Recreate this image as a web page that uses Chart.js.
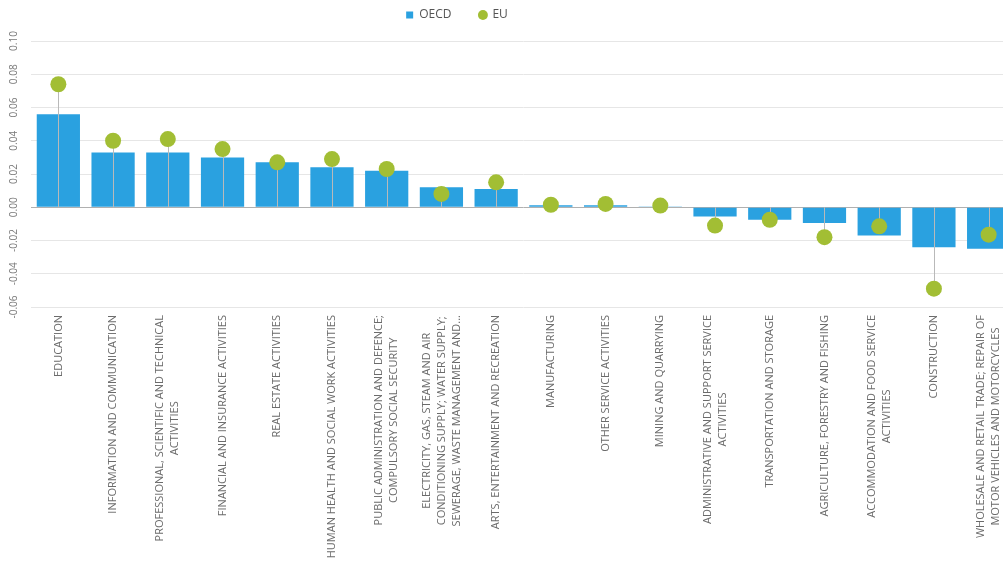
<!DOCTYPE html>
<html lang="en">
<head>
    <meta charset="UTF-8">
    <title>OECD vs EU by sector</title>
    <script src="https://cdn.jsdelivr.net/npm/chart.js"></script>
    <style>
        html, body {
            margin: 0;
            padding: 0;
            background: #ffffff;
            overflow: hidden;
        }
        #wrap {
            width: 1003px;
            height: 567px;
            overflow: hidden;
        }
    </style>
</head>
<body>
    <div id="wrap">
        <canvas id="sectorChart" width="1024" height="567"></canvas>
    </div>
    <script>
        // Sector names, one array entry per printed line
        const sectors = [
            ['EDUCATION'],
            ['INFORMATION AND COMMUNICATION'],
            ['PROFESSIONAL, SCIENTIFIC AND TECHNICAL', 'ACTIVITIES'],
            ['FINANCIAL AND INSURANCE ACTIVITIES'],
            ['REAL ESTATE ACTIVITIES'],
            ['HUMAN HEALTH AND SOCIAL WORK ACTIVITIES'],
            ['PUBLIC ADMINISTRATION AND DEFENCE;', 'COMPULSORY SOCIAL SECURITY'],
            ['ELECTRICITY, GAS, STEAM AND AIR', 'CONDITIONING SUPPLY; WATER SUPPLY;', 'SEWERAGE, WASTE MANAGEMENT AND...'],
            ['ARTS, ENTERTAINMENT AND RECREATION'],
            ['MANUFACTURING'],
            ['OTHER SERVICE ACTIVITIES'],
            ['MINING AND QUARRYING'],
            ['ADMINISTRATIVE AND SUPPORT SERVICE', 'ACTIVITIES'],
            ['TRANSPORTATION AND STORAGE'],
            ['AGRICULTURE, FORESTRY AND FISHING'],
            ['ACCOMMODATION AND FOOD SERVICE', 'ACTIVITIES'],
            ['CONSTRUCTION'],
            ['WHOLESALE AND RETAIL TRADE; REPAIR OF', 'MOTOR VEHICLES AND MOTORCYCLES']
        ];

        const oecd = [0.056, 0.033, 0.033, 0.030, 0.027, 0.024, 0.022, 0.012, 0.011, 0.0012,
                      0.0012, 0.0004, -0.0055, -0.0075, -0.0095, -0.017, -0.024, -0.025];
        const eu = [0.074, 0.040, 0.041, 0.035, 0.027, 0.029, 0.023, 0.008, 0.015, 0.0015,
                    0.002, 0.001, -0.011, -0.0075, -0.018, -0.0115, -0.049, -0.0165];

        const yMin = -0.06;
        const yMax = 0.10;
        const yStep = 0.02;

        const FONT = '"Open Sans", "Noto Sans", sans-serif';

        // thin grey stem from zero to each EU point, drawn under the dots
        const stems = {
            id: 'stems',
            beforeDatasetDraw(chart, args) {
                if (args.index !== 1) return;
                const { ctx, scales: { x, y } } = chart;
                const y0 = y.getPixelForValue(0);
                ctx.save();
                ctx.strokeStyle = '#b9b9b9';
                ctx.lineWidth = 1;
                eu.forEach((v, i) => {
                    const px = Math.round(x.getPixelForValue(i)) + 0.5;
                    ctx.beginPath();
                    ctx.moveTo(px, y0);
                    ctx.lineTo(px, y.getPixelForValue(v));
                    ctx.stroke();
                });
                ctx.restore();
            }
        };

        // vertical, multi-line category labels, lines centred within their block
        const sectorLabels = {
            id: 'sectorLabels',
            afterDraw(chart) {
                const { ctx, scales: { x } } = chart;
                ctx.save();
                ctx.font = '11px ' + FONT;
                ctx.fillStyle = '#6b6b6b';
                ctx.textAlign = 'center';
                ctx.textBaseline = 'middle';
                sectors.forEach((lines, i) => {
                    const px = x.getPixelForValue(i);
                    const w = Math.max(...lines.map(l => ctx.measureText(l).width));
                    ctx.save();
                    ctx.translate(px, x.top + 8);
                    ctx.rotate(-Math.PI / 2);
                    lines.forEach((l, j) => {
                        ctx.fillText(l, -w / 2, (j - (lines.length - 1) / 2) * 15);
                    });
                    ctx.restore();
                });
                ctx.restore();
            }
        };

        // legend takes a fixed band above the plot, a little left of centre
        const legendPlace = {
            id: 'legendPlace',
            afterInit(chart) {
                const lg = chart.legend;
                const fit = lg.fit.bind(lg);
                lg.fit = function () {
                    fit();
                    this.height = 41;
                    this.bottom = this.top + 41;
                };
            },
            afterLayout(chart) {
                const lg = chart.legend;
                lg.left -= 55;
                lg.right -= 55;
                lg.top = -19;
                lg.bottom = 41;
            }
        };

        const ctx = document.getElementById('sectorChart').getContext('2d');
        new Chart(ctx, {
            data: {
                labels: sectors.map(s => s.join(' ')),
                datasets: [
                    {
                        type: 'bar',
                        label: 'OECD',
                        data: oecd,
                        backgroundColor: '#2aa1e0',
                        borderWidth: 0,
                        barPercentage: 0.79,
                        categoryPercentage: 1,
                        pointStyle: 'rect',
                        order: 2
                    },
                    {
                        type: 'line',
                        label: 'EU',
                        data: eu,
                        showLine: false,
                        pointStyle: 'circle',
                        pointRadius: 8,
                        pointHoverRadius: 8,
                        pointBackgroundColor: '#a2be34',
                        pointBorderWidth: 0,
                        backgroundColor: '#a2be34',
                        borderColor: '#a2be34',
                        order: 1
                    }
                ]
            },
            options: {
                responsive: false,
                animation: false,
                devicePixelRatio: 1,
                plugins: {
                    legend: {
                        position: 'top',
                        labels: {
                            sort: (a, b) => a.datasetIndex - b.datasetIndex,
                            usePointStyle: true,
                            boxWidth: 7,
                            boxHeight: 7,
                            padding: 28,
                            color: '#555555',
                            font: { family: FONT, size: 12 }
                        }
                    },
                    tooltip: { enabled: false }
                },
                scales: {
                    x: {
                        grid: { display: false },
                        border: { display: false },
                        ticks: { display: false },
                        afterFit(scale) { scale.height = 260; }
                    },
                    y: {
                        min: yMin,
                        max: yMax,
                        border: { display: false },
                        grid: {
                            drawTicks: false,
                            color: c => Math.abs(c.tick.value) < 1e-9 ? '#b0b0b0' : '#e6e6e6'
                        },
                        ticks: {
                            stepSize: yStep,
                            minRotation: 90,
                            maxRotation: 90,
                            crossAlign: 'center',
                            padding: 5,
                            color: '#7a7a7a',
                            font: { family: FONT, size: 10 },
                            callback: v => (Math.abs(v) < 1e-9 ? 0 : v).toFixed(2)
                        },
                        afterFit(scale) { scale.width = 31; }
                    }
                }
            },
            plugins: [stems, sectorLabels, legendPlace]
        });
    </script>
</body>
</html>
